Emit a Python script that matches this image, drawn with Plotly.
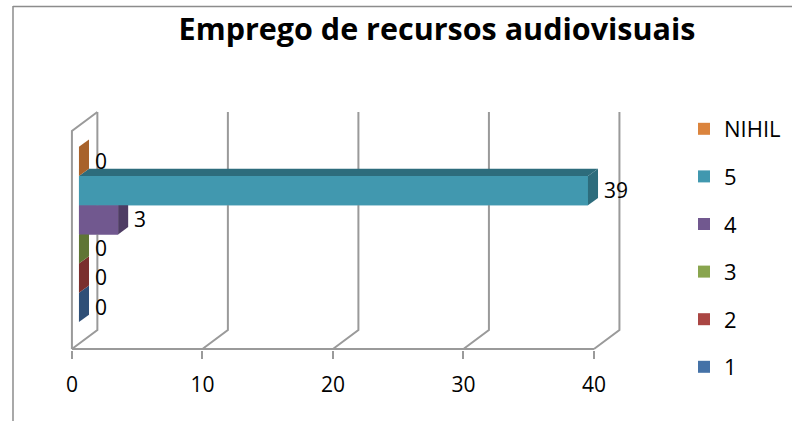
import plotly.graph_objects as go

# ---- data ----
series = ["1", "2", "3", "4", "5", "NIHIL"]
values = [0, 0, 0, 3, 39, 0]
front_colors = ["#4572A7", "#AA4643", "#89A54E", "#71588F", "#4198AF", "#DB843D"]
dark_colors = ["#2F4F77", "#7A2F2D", "#5F7535", "#4E3C64", "#2D6C7C", "#A8622B"]
x_ticks = [0, 10, 20, 30, 40]
title_text = "Emprego de recursos audiovisuais"

# ---- 3D geometry (style constants, x in value units, y in pixel-like units) ----
DX, DY = 1.95, 19.0        # floor/wall depth
TOP_FRONT = 218.0          # height of the front-left wall edge
BX0 = 0.54                 # bar front plane x offset
SDX, SDY = 0.77, 7.3       # bar depth
BAR_Y0, BAR_H = 27.0, 29.2 # first bar bottom and bar height
LABEL_GAP = 0.45
GRID = "#9a9a9a"

fig = go.Figure()

# walls / floor outlines
wx, wy = [], []
for v in x_ticks:
    wx += [v, v + DX, v + DX, None]
    wy += [0, DY, TOP_FRONT + DY, None]
wx += [0, 0, DX, None, 0, x_ticks[-1], None]
wy += [0, TOP_FRONT, TOP_FRONT + DY, None, 0, 0, None]
fig.add_trace(go.Scatter(x=wx, y=wy, mode="lines", line=dict(color=GRID, width=2),
                         showlegend=False, hoverinfo="skip"))

# legend entries (front faces as real bars), NIHIL first so it heads the legend
for i in reversed(range(len(series))):
    s, v = series[i], values[i]
    yb = BAR_Y0 + BAR_H * i
    fig.add_trace(go.Bar(x=[v], base=[BX0], y=[yb + BAR_H / 2], width=[BAR_H],
                         orientation="h", name=s, legendgroup=s,
                         marker=dict(color=front_colors[i], line=dict(width=0)),
                         hoverinfo="skip"))

# 3D faces drawn in order so upper bars cover lower bars' top faces
for i, (s, v) in enumerate(zip(series, values)):
    yb = BAR_Y0 + BAR_H * i
    yt = yb + BAR_H
    x1 = BX0 + v
    fig.add_trace(go.Scatter(x=[BX0, BX0 + SDX, x1 + SDX, x1, BX0],
                             y=[yt, yt + SDY, yt + SDY, yt, yt],
                             mode="lines", fill="toself", fillcolor=dark_colors[i],
                             line=dict(width=0, color=dark_colors[i]),
                             showlegend=False, hoverinfo="skip"))
    if v > 0:
        fig.add_trace(go.Scatter(x=[BX0, x1, x1, BX0, BX0],
                                 y=[yb, yb, yt, yt, yb],
                                 mode="lines", fill="toself", fillcolor=front_colors[i],
                                 line=dict(width=0, color=front_colors[i]),
                                 showlegend=False, hoverinfo="skip"))
    fig.add_trace(go.Scatter(x=[x1, x1 + SDX, x1 + SDX, x1, x1],
                             y=[yb, yb + SDY, yt + SDY, yt, yb],
                             mode="lines", fill="toself", fillcolor=dark_colors[i],
                             line=dict(width=0, color=dark_colors[i]),
                             showlegend=False, hoverinfo="skip"))

# data labels
fig.add_trace(go.Scatter(
    x=[BX0 + v + SDX + LABEL_GAP for v in values],
    y=[BAR_Y0 + BAR_H * i + BAR_H / 2 - 2 for i in range(len(values))],
    mode="text", text=[str(v) for v in values], textposition="middle right",
    textfont=dict(family="Open Sans", size=21, color="black"),
    showlegend=False, hoverinfo="skip", cliponaxis=False))

L, PXU = 68, 13.05
XR = [-0.3, 42.3]
pw = (XR[1] - XR[0]) * PXU
YR = [-1, 240]
bottom = 350
ph = YR[1] - YR[0]

fig.update_layout(
    width=792, height=421,
    margin=dict(l=L, r=792 - L - pw, t=bottom - ph, b=421 - bottom,
                pad=0, autoexpand=False),
    paper_bgcolor="white", plot_bgcolor="white",
    font=dict(family="Open Sans", color="black"),
    barmode="overlay",
    title=dict(text="<b>" + title_text + "</b>", x=437 / 792, xanchor="center",
               xref="container",
               y=1 - 29 / 421, yanchor="middle", yref="container",
               font=dict(family="Open Sans", size=30.5, color="black")),
    xaxis=dict(range=XR, tickvals=x_ticks, ticktext=[str(t) for t in x_ticks],
               showgrid=False, zeroline=False, showline=False,
               ticks="outside", ticklen=8, tickwidth=2, tickcolor=GRID,
               ticklabelstandoff=8,
               tickfont=dict(family="Open Sans", size=21, color="black")),
    yaxis=dict(range=YR, showgrid=False, zeroline=False, showline=False,
               showticklabels=False, ticks=""),
    legend=dict(x=684 / 792, y=1 - 108 / 421, xref="container", yref="container",
                xanchor="left", yanchor="top", maxheight=400,
                traceorder="grouped", tracegroupgap=16,
                font=dict(family="Open Sans", size=22, color="black"),
                bgcolor="rgba(0,0,0,0)"),
    shapes=[
        dict(type="line", xref="paper", yref="paper",
             x0=(13 - L) / pw, x1=(13 - L) / pw,
             y0=(bottom - 6) / ph, y1=(bottom - 425) / ph,
             line=dict(color="#8c8c8c", width=1.5)),
        dict(type="line", xref="paper", yref="paper",
             x0=(13 - L) / pw, x1=(795 - L) / pw,
             y0=(bottom - 6.5) / ph, y1=(bottom - 6.5) / ph,
             line=dict(color="#8c8c8c", width=1.5)),
    ],
)

fig.write_html("out.html",
               config={"displayModeBar": False},
               post_script="document.body.style.margin='0';document.body.style.overflow='hidden';")
